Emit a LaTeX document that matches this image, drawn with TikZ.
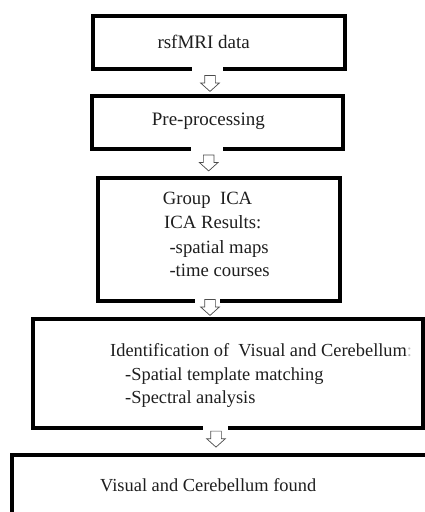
\documentclass[tikz,border=0pt]{standalone}
\usepackage{fontspec}
\setmainfont{Liberation Serif}
\usetikzlibrary{shapes.arrows}

\definecolor{inkText}{RGB}{30,30,30}

\begin{document}
\begin{tikzpicture}[x=1pt, y=-1pt,
  box/.style={draw=black, line width=3.2pt, inner sep=0pt, rectangle},
  gap/.style={fill=white},
  down/.style={single arrow, draw=black!70, line width=0.7pt, fill=white,
               rotate=-90, inner xsep=0pt, inner ysep=5pt,
               minimum height=16pt, minimum width=16pt,
               single arrow head extend=4pt, single arrow tip angle=96},
  txt/.style={anchor=base west, inner sep=0pt, text=inkText,
              font=\fontsize{18.7}{22}\selectfont},
  txtsm/.style={txt, font=\fontsize{18.4}{22}\selectfont}
]
  \useasboundingbox (0,0) rectangle (425,512);

  % the five stages
  \node[box, minimum width=252, minimum height=53]  (raw)   at (219,42.5)  {};
  \node[box, minimum width=251, minimum height=53]  (prep)  at (217.5,122.5) {};
  \node[box, minimum width=242, minimum height=123] (ica)   at (219,239.5) {};
  \node[box, minimum width=390, minimum height=109] (ident) at (228,373.5) {};
  \node[box, minimum width=440, minimum height=100] (found) at (232,505)   {};

  % breaks in the bottom borders
  \fill[gap] (192,66) rectangle (223,73);
  \fill[gap] (191,146) rectangle (223,153);
  \fill[gap] (195,298) rectangle (220,305);
  \fill[gap] (203,425) rectangle (228,432);

  % hollow arrows between stages
  \node[down] (a1) at (210,81)    {};
  \node[down] (a2) at (208.7,160.5) {};
  \node[down] (a3) at (210,305)   {};
  \node[down] (a4) at (216,436.7) {};

  % labels
  \node[txt, font=\fontsize{19}{22}\selectfont] (rawtxt)  at (157.3,48.3)  {rsfMRI data};
  \node[txt, font=\fontsize{19}{22}\selectfont] (preptxt) at (151.7,125.7) {Pre-processing};

  \node[txt] (ica1) at (162.7,204)   {Group~~ICA};
  \node[txt] (ica2) at (164,228.3)   {ICA Results:};
  \node[txt] (ica3) at (169.3,253.3) {-spatial maps};
  \node[txt] (ica4) at (169.3,276.7) {-time courses};

  \node[txtsm] (id1) at (110,356.7) {Identification of~~Visual and Cerebellum{\color{black!25}:}};
  \node[txtsm] (id2) at (125,380)   {-Spatial template matching};
  \node[txtsm] (id3) at (125,403.3) {-Spectral analysis};

  \node[txtsm] (foundtxt) at (100,491.7) {Visual and Cerebellum found};
\end{tikzpicture}
\end{document}
